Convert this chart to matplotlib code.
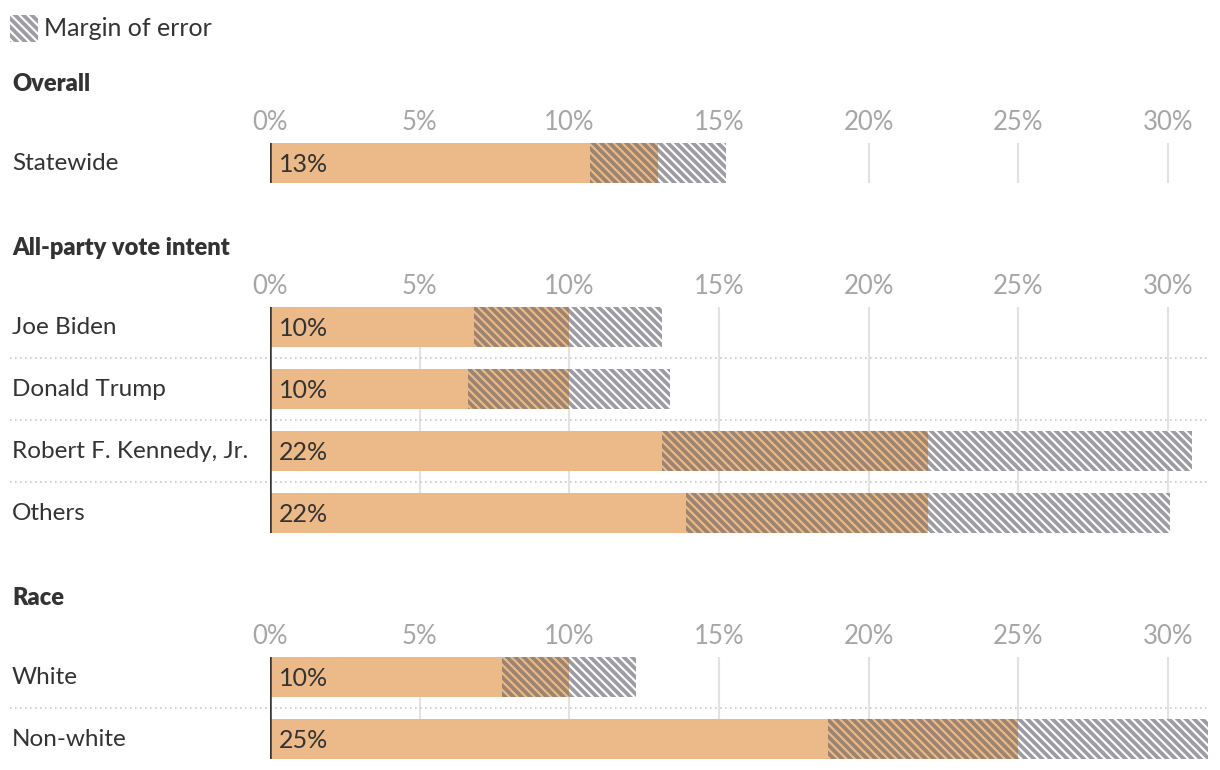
import matplotlib
matplotlib.use("Agg")
import matplotlib.pyplot as plt
from matplotlib.patches import Rectangle
from matplotlib.transforms import blended_transform_factory

plt.rcParams['font.family'] = ['Lato', 'DejaVu Sans']
plt.rcParams['hatch.linewidth'] = 2.7

# ---- data ----
group_titles = ["Overall", "All-party vote intent", "Race"]
group_labels = [
    ["Statewide"],
    ["Joe Biden", "Donald Trump", "Robert F. Kennedy, Jr.", "Others"],
    ["White", "Non-white"],
]
group_values = [
    [12.96],
    [10.0, 10.0, 22.0, 22.0],
    [10.0, 25.0],
]
group_low = [
    [10.69],
    [6.82, 6.62, 13.1, 13.9],
    [7.75, 18.64],
]
group_high = [
    [15.24],
    [13.1, 13.36, 30.8, 30.07],
    [12.23, 31.6],
]
tick_values = [0, 5, 10, 15, 20, 25, 30]
tick_labels = ["0%", "5%", "10%", "15%", "20%", "25%", "30%"]

# ---- style ----
W, H = 1220, 770
ORANGE = "#ecba88"
HATCH_GRAY = "#9d9ca2"
HATCH_ON_ORANGE = "#9c8471"
TEXT = "#333333"
TICK = "#a6a6a6"
GRID = "#e2e2e2"
SEP = "#c8c8c8"
HATCH = '\\\\\\\\'

fig = plt.figure(figsize=(W / 100, H / 100), dpi=100)

ax_left, ax_right = 270, 1208
px_per_pct = 29.93
xmax = (ax_right - ax_left) / px_per_pct
row_px = 62
bar_px = 40
bar_h = bar_px / row_px

panel_bar_tops = [143, 307, 657]
title_y = [84, 248, 598]

for g, (title, labels, vals, lows, highs) in enumerate(
        zip(group_titles, group_labels, group_values, group_low, group_high)):
    n = len(labels)
    top = panel_bar_tops[g]
    hpx = (n - 1) * row_px + bar_px
    ax = fig.add_axes([ax_left / W, 1 - (top + hpx) / H, (ax_right - ax_left) / W, hpx / H])
    ax.set_xlim(0, xmax)
    ax.set_ylim(n - 1 + bar_h / 2, -bar_h / 2)
    for s in ax.spines.values():
        s.set_visible(False)
    ax.set_yticks([])
    ax.xaxis.tick_top()
    ax.set_xticks(tick_values)
    ax.set_xticklabels(tick_labels)
    ax.tick_params(axis='x', length=0, pad=6, labelsize=18.5, labelcolor=TICK)
    for t in tick_values[1:]:
        ax.axvline(t, color=GRID, lw=1.5, zorder=0)
    ys = list(range(n))
    # solid part
    ax.barh(ys, lows, height=bar_h, color=ORANGE, lw=0, zorder=2)
    # margin below the value (orange hatched)
    ax.barh(ys, [v - l for v, l in zip(vals, lows)], left=lows, height=bar_h,
            color=ORANGE, edgecolor=HATCH_ON_ORANGE, hatch=HATCH, lw=0, zorder=2)
    # margin above the value (white hatched)
    ax.barh(ys, [h - v for h, v in zip(highs, vals)], left=vals, height=bar_h,
            color='white', edgecolor=HATCH_GRAY, hatch=HATCH, lw=0, zorder=2)
    ax.axvline(0, color=TEXT, lw=1.8, zorder=3)
    trans = blended_transform_factory(fig.transFigure, ax.transData)
    for i, (lab, v) in enumerate(zip(labels, vals)):
        ax.text(12 / W, i, lab, transform=trans, ha='left', va='center',
                fontsize=17.5, color=TEXT)
        ax.text(0.3, i + 0.02, f"{round(v)}%", ha='left', va='center',
                fontsize=18, color=TEXT, zorder=4)
    for i in range(n - 1):
        ax.plot([10 / W, 1208 / W], [i + 0.5, i + 0.5], transform=trans,
                color=SEP, lw=1.2, ls=(0, (1, 2)), clip_on=False, zorder=1)
    fig.text(12 / W, 1 - title_y[g] / H, title, ha='left', va='center',
             fontsize=17, fontweight='heavy', color=TEXT)

# legend
fig.patches.append(Rectangle((10 / W, 1 - 42 / H), 28 / W, 27 / H,
                             transform=fig.transFigure, facecolor='white',
                             edgecolor=HATCH_GRAY, hatch=HATCH, lw=0))
fig.text(44 / W, 1 - 28 / H, "Margin of error", ha='left', va='center',
         fontsize=18, color=TEXT)

fig.savefig("out.png", dpi=100)
